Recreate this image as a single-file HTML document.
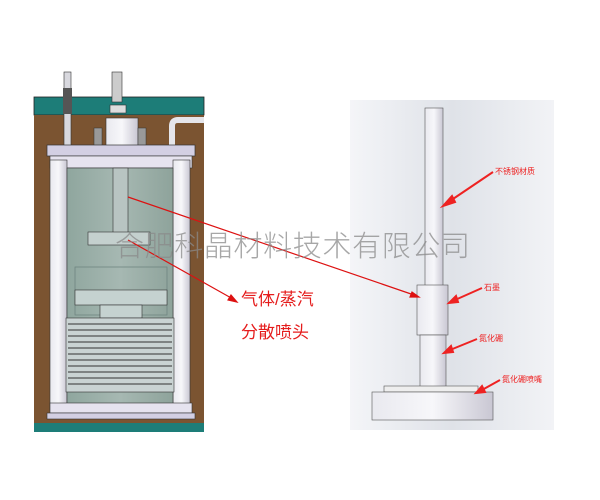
<!DOCTYPE html>
<html><head><meta charset="utf-8"><style>
html,body{margin:0;padding:0;background:#fff;width:600px;height:500px;overflow:hidden}
svg{display:block}
</style></head><body>
<svg width="600" height="500" viewBox="0 0 600 500" xmlns="http://www.w3.org/2000/svg">
<defs>
<linearGradient id="bg" x1="0" y1="0" x2="1" y2="0"><stop offset="0" stop-color="#f4f5f8"/><stop offset="0.5" stop-color="#dfe2e8"/><stop offset="1" stop-color="#f2f3f6"/></linearGradient>
<linearGradient id="cyl" x1="0" y1="0" x2="1" y2="0"><stop offset="0" stop-color="#e9e9ef"/><stop offset="0.5" stop-color="#f7f7fa"/><stop offset="1" stop-color="#c9c7d3"/></linearGradient>
<linearGradient id="inner" x1="0" y1="0" x2="1" y2="0"><stop offset="0" stop-color="#8fa69e"/><stop offset="0.5" stop-color="#a6b8b2"/><stop offset="1" stop-color="#8ea39b"/></linearGradient>
</defs>
<!-- left image -->
<rect x="34" y="72" width="170" height="360" fill="#fff"/>
<rect x="34" y="97" width="170" height="18" fill="#1d7d78" stroke="#222" stroke-width="0.8"/>
<rect x="34" y="115" width="170" height="308" fill="#7b5431"/>
<rect x="34" y="423" width="170" height="9" fill="#1d7d78"/>
<!-- left pipe -->
<rect x="64" y="72" width="7" height="75" fill="#d8d8de" stroke="#333" stroke-width="0.6"/>
<rect x="63" y="88" width="9" height="26" fill="#555"/>
<!-- right pipe -->
<path d="M172 147 V126 Q172 120 178 120 H204" fill="none" stroke="#e5e5ea" stroke-width="6"/>
<!-- center fitting -->
<rect x="112" y="72" width="10" height="30" fill="#ccc" stroke="#333" stroke-width="0.6"/>
<rect x="110" y="105" width="16" height="8" fill="#ddd" stroke="#333" stroke-width="0.6"/>
<rect x="106" y="118" width="32" height="30" fill="url(#cyl)" stroke="#333" stroke-width="0.6"/>
<rect x="94" y="128" width="8" height="18" fill="#999" stroke="#333" stroke-width="0.5"/>
<rect x="138" y="128" width="8" height="18" fill="#999" stroke="#333" stroke-width="0.5"/>
<!-- flange top -->
<rect x="47" y="145" width="148" height="11" fill="#d3cfe3" stroke="#333" stroke-width="0.7"/>
<rect x="50" y="156" width="142" height="12" fill="#e6e3ef" stroke="#333" stroke-width="0.6"/>
<!-- pillars -->
<rect x="50" y="160" width="17" height="250" fill="url(#cyl)" stroke="#333" stroke-width="0.6"/>
<rect x="173" y="160" width="17" height="250" fill="url(#cyl)" stroke="#333" stroke-width="0.6"/>
<rect x="67" y="168" width="106" height="237" fill="url(#inner)" stroke="#333" stroke-width="0.6"/>
<!-- shaft & disc -->
<rect x="113" y="168" width="15" height="67" fill="#b8c4c2" stroke="#333" stroke-width="0.6"/>
<rect x="88" y="232" width="62" height="13" fill="#c4d0ce" stroke="#333" stroke-width="0.6"/>
<rect x="75" y="267" width="92" height="48" fill="none" stroke="#6f8580" stroke-width="0.8"/>
<rect x="75" y="290" width="92" height="15" fill="#c5d2d0" stroke="#333" stroke-width="0.6"/>
<rect x="100" y="305" width="42" height="13" fill="#c5d2d0" stroke="#333" stroke-width="0.6"/>
<!-- coil -->
<rect x="66" y="318" width="108" height="74" fill="#c9d3d3" stroke="#333" stroke-width="0.6"/>
<g stroke="#333" stroke-width="0.9">
<line x1="68" y1="324" x2="172" y2="324"/><line x1="68" y1="330" x2="172" y2="330"/><line x1="68" y1="336" x2="172" y2="336"/><line x1="68" y1="342" x2="172" y2="342"/><line x1="68" y1="348" x2="172" y2="348"/><line x1="68" y1="354" x2="172" y2="354"/><line x1="68" y1="360" x2="172" y2="360"/><line x1="68" y1="366" x2="172" y2="366"/><line x1="68" y1="372" x2="172" y2="372"/><line x1="68" y1="378" x2="172" y2="378"/><line x1="68" y1="384" x2="172" y2="384"/>
</g>
<rect x="50" y="403" width="142" height="10" fill="#e6e3ef" stroke="#333" stroke-width="0.6"/>
<rect x="47" y="413" width="148" height="6" fill="#d3cfe3" stroke="#333" stroke-width="0.6"/>
<!-- right image -->
<rect x="350" y="100" width="204" height="330" fill="url(#bg)"/>
<rect x="425" y="108" width="18" height="180" fill="url(#cyl)" stroke="#555" stroke-width="0.6"/>
<rect x="417" y="285" width="31" height="50" fill="url(#cyl)" stroke="#555" stroke-width="0.6"/>
<rect x="420" y="335" width="26" height="52" fill="url(#cyl)" stroke="#555" stroke-width="0.6"/>
<rect x="384" y="386" width="94" height="6" fill="#eee" stroke="#555" stroke-width="0.6"/>
<rect x="372" y="392" width="121" height="28" fill="url(#cyl)" stroke="#555" stroke-width="0.6"/>
<!-- red labels right -->
<g fill="#e22" font-family="Liberation Sans, Noto Sans CJK SC, sans-serif" font-size="8">
<text x="495" y="174">不锈钢材质</text>
<text x="484" y="290">石墨</text>
<text x="479" y="341">氮化硼</text>
<text x="502" y="382">氮化硼喷嘴</text>
</g>
<g stroke="#e22" stroke-width="2" fill="#e22">
<line x1="493" y1="172" x2="447" y2="203"/><polygon points="443,206 452,196 455,202"/>
<line x1="482" y1="288" x2="455" y2="300"/><polygon points="449,303 456,296 458,302"/>
<line x1="477" y1="339" x2="450" y2="350"/><polygon points="444,353 451,346 453,352"/>
<line x1="500" y1="380" x2="482" y2="390"/><polygon points="476,393 482,386 485,392"/>
</g>
<!-- red lines left -->
<g stroke="#d11" stroke-width="1.2" fill="#d11">
<line x1="128" y1="197" x2="414" y2="295"/><polygon points="419,297 410,297 412,292"/>
<line x1="128" y1="240" x2="233" y2="299"/><polygon points="237,302 228,300 231,295"/>
</g>
<g fill="#e51c1c" font-family="Liberation Sans, Noto Sans CJK SC, sans-serif" font-size="17">
<text x="241" y="305">气体/蒸汽</text>
<text x="241" y="338">分散喷头</text>
</g>
<text x="115" y="256" fill="#8a8a8a" fill-opacity="0.75" font-family="Liberation Sans, Noto Sans CJK SC, sans-serif" font-size="29" font-weight="300" textLength="355">合肥科晶材料技术有限公司</text>
</svg>
</body></html>
